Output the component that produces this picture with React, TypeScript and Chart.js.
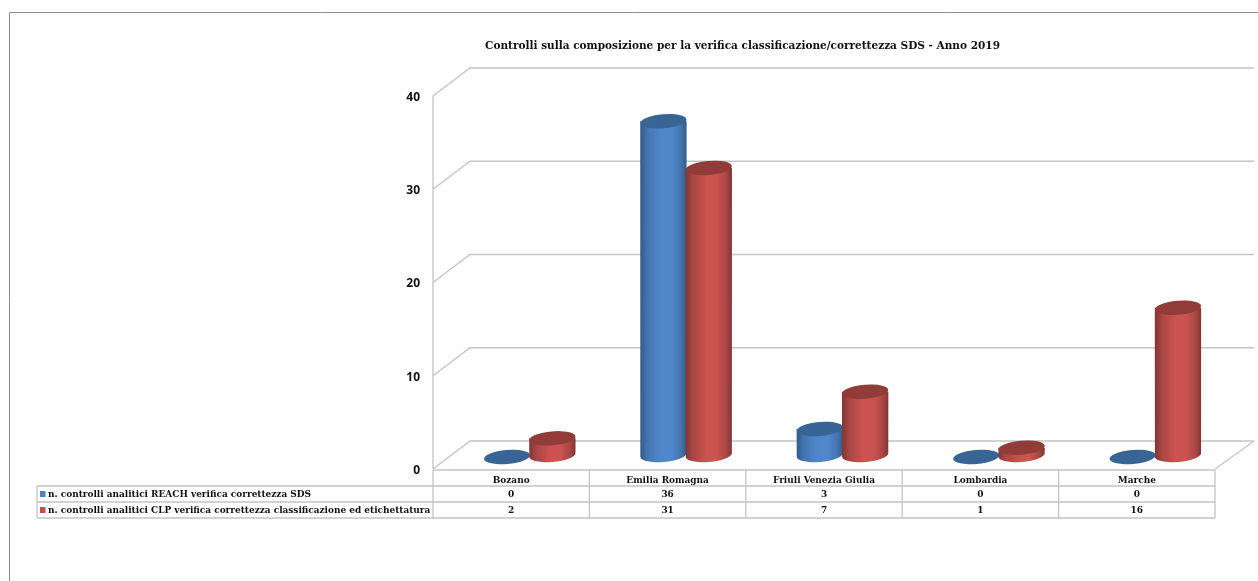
import React, { useEffect, useRef } from "react";
import { Chart, registerables } from "chart.js";

Chart.register(...registerables);

const chartTitle = "Controlli sulla composizione per la verifica classificazione/correttezza SDS - Anno 2019";
const categories = ["Bozano", "Emilia Romagna", "Friuli Venezia Giulia", "Lombardia", "Marche"];
const reachLabel = "n. controlli analitici REACH verifica correttezza SDS";
const clpLabel = "n. controlli analitici CLP verifica correttezza classificazione ed etichettatura";
const reachValues = [0, 36, 3, 0, 0];
const clpValues = [2, 31, 7, 1, 16];

const DEPTH_X = 37;
const DEPTH_Y = 28;
const WALL_END = 1254;
const LINE = "#c4c4c4";
const SERIF = '"DejaVu Serif Condensed", "Liberation Serif", serif';

const palettes = [
  { edge: "#305c8c", soft: "#4474ad", mid: "#5087ca", cap: "#386595", swatch: "#4f81bd" },
  { edge: "#803634", soft: "#a84644", mid: "#cb5350", cap: "#923c3a", swatch: "#c0504d" },
];

// Back wall, side wall and floor of the 3D box, from the value axis ticks.
const wallsPlugin = {
  id: "walls",
  beforeDatasetsDraw(chart: any) {
    const { ctx, chartArea, scales } = chart;
    ctx.save();
    ctx.strokeStyle = LINE;
    ctx.lineWidth = 1.3;
    ctx.beginPath();
    ctx.moveTo(chartArea.left, chartArea.top);
    ctx.lineTo(chartArea.left, chartArea.bottom);
    scales.y.ticks.forEach((t: any) => {
      const y = scales.y.getPixelForValue(t.value);
      ctx.moveTo(chartArea.left, y);
      ctx.lineTo(chartArea.left + DEPTH_X, y - DEPTH_Y);
      ctx.lineTo(WALL_END, y - DEPTH_Y);
    });
    ctx.moveTo(chartArea.right, chartArea.bottom);
    ctx.lineTo(WALL_END, chartArea.bottom - DEPTH_Y);
    ctx.stroke();
    ctx.restore();
  },
};

// Each bar element is redrawn as a cylinder standing halfway into the box.
const cylinderPlugin = {
  id: "cylinders",
  afterDatasetsDraw(chart: any) {
    const { ctx } = chart;
    chart.data.datasets.forEach((_: any, di: number) => {
      const colors = palettes[di];
      chart.getDatasetMeta(di).data.forEach((bar: any) => {
        const rx = bar.width / 2 + 0.5;
        const ry = 7;
        const tilt = -0.085;
        const cx = bar.x + DEPTH_X / 2;
        const top = bar.y - 12;
        const base = bar.base - DEPTH_Y / 2;
        ctx.save();
        if (base > top) {
          const g = ctx.createLinearGradient(cx - rx, 0, cx + rx, 0);
          g.addColorStop(0, colors.edge);
          g.addColorStop(0.15, colors.soft);
          g.addColorStop(0.45, colors.mid);
          g.addColorStop(0.68, colors.mid);
          g.addColorStop(0.88, colors.soft);
          g.addColorStop(1, colors.edge);
          ctx.fillStyle = g;
          ctx.beginPath();
          ctx.ellipse(cx, base, rx, ry, tilt, 0, Math.PI);
          ctx.lineTo(cx - rx, top);
          ctx.lineTo(cx + rx, top);
          ctx.closePath();
          ctx.fill();
        }
        ctx.fillStyle = colors.cap;
        ctx.beginPath();
        ctx.ellipse(cx, top, rx, ry, tilt, 0, Math.PI * 2);
        ctx.fill();
        ctx.restore();
      });
    });
  },
};

// Outer frame, title and the data table under the plot.
const tablePlugin = {
  id: "dataTable",
  afterDraw(chart: any) {
    const { ctx, chartArea, scales } = chart;
    const left = chartArea.left;
    const right = chartArea.right;
    const rows = [470, 486, 502, 518];
    const outer = 37;
    ctx.save();

    ctx.strokeStyle = "#8c8c8c";
    ctx.lineWidth = 1;
    ctx.beginPath();
    ctx.moveTo(9.5, chart.height);
    ctx.lineTo(9.5, 12.5);
    ctx.lineTo(chart.width, 12.5);
    ctx.stroke();

    ctx.fillStyle = "#111";
    ctx.font = `bold 11.7px ${SERIF}`;
    ctx.textAlign = "center";
    ctx.textBaseline = "middle";
    ctx.fillText(chartTitle, 742.5, 46);

    ctx.strokeStyle = LINE;
    ctx.lineWidth = 1.3;
    ctx.beginPath();
    ctx.moveTo(left, rows[0]);
    ctx.lineTo(right, rows[0]);
    rows.slice(1).forEach((y) => {
      ctx.moveTo(outer, y);
      ctx.lineTo(right, y);
    });
    ctx.moveTo(outer, rows[1]);
    ctx.lineTo(outer, rows[3]);
    const step = (right - left) / categories.length;
    for (let i = 0; i <= categories.length; i++) {
      ctx.moveTo(left + i * step, rows[0]);
      ctx.lineTo(left + i * step, rows[3]);
    }
    ctx.stroke();

    ctx.font = `bold 9.95px ${SERIF}`;
    ctx.fillStyle = "#111";
    categories.forEach((_, i) => {
      const x = scales.x.getPixelForValue(i);
      ctx.fillText(String(reachValues[i]), x, 494.5);
      ctx.fillText(String(clpValues[i]), x, 510.5);
    });

    ctx.textAlign = "left";
    ctx.fillText(reachLabel, 48, 494.5);
    ctx.fillText(clpLabel, 48, 510.5);
    ctx.fillStyle = palettes[0].swatch;
    ctx.fillRect(40, 491, 5.5, 6);
    ctx.fillStyle = palettes[1].swatch;
    ctx.fillRect(40, 507, 5.5, 6);
    ctx.restore();
  },
};

export default function App() {
  const ref = useRef<HTMLCanvasElement>(null);

  useEffect(() => {
    const chart = new Chart(ref.current as HTMLCanvasElement, {
      type: "bar",
      data: {
        labels: categories,
        datasets: [
          { label: reachLabel, data: reachValues, backgroundColor: "transparent" },
          { label: clpLabel, data: clpValues, backgroundColor: "transparent" },
        ],
      },
      options: {
        responsive: false,
        animation: false,
        layout: { padding: { left: 0, right: 43, top: 96, bottom: 93 } },
        plugins: { legend: { display: false }, tooltip: { enabled: false } },
        datasets: { bar: { categoryPercentage: 0.58, barPercentage: 1 } },
        scales: {
          x: {
            grid: { display: false },
            border: { display: false },
            afterFit: (s: any) => { s.height = 19; },
            ticks: {
              padding: -3,
              maxRotation: 0,
              color: "#111",
              font: { family: SERIF, weight: "bold", size: 9.95 },
            },
          },
          y: {
            min: 0,
            max: 40,
            grid: { display: false },
            border: { display: false },
            afterFit: (s: any) => { s.width = 433; },
            ticks: {
              stepSize: 10,
              padding: 5,
              labelOffset: 1.5,
              color: "#111",
              font: { family: '"Open Sans", sans-serif', weight: "bold", size: 12 },
            },
          },
        },
      },
      plugins: [wallsPlugin, cylinderPlugin, tablePlugin],
    } as any);
    return () => chart.destroy();
  }, []);

  return (
    <div style={{ position: "absolute", left: 0, top: 0, width: 1258, height: 581, background: "#fff" }}>
      <canvas ref={ref} width={1258} height={581} style={{ display: "block" }} />
    </div>
  );
}
